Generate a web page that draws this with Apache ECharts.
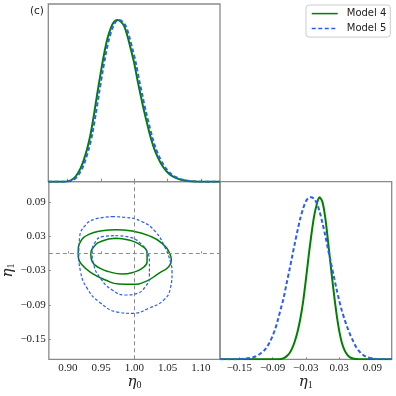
<!DOCTYPE html>
<html>
<head>
<meta charset="utf-8">
<script src="https://cdn.jsdelivr.net/npm/echarts@6/dist/echarts.min.js"></script>
<style>html,body{margin:0;padding:0;background:#fff;}#c{width:396px;height:396px;}</style>
</head>
<body>
<div id="c"></div>
<script>
// ---- data ----
const eta0Ticks = [0.90, 0.95, 1.00, 1.05, 1.10];
const eta1Ticks = [-0.15, -0.09, -0.03, 0.03, 0.09];
const eta0Range = [0.8714, 1.1286];
const eta1Range = [-0.185, 0.125];
const truthEta0 = 1.0;
const truthEta1 = 0.0;

// 1D posterior of eta0 (normalised to peak = 1)
const m4Eta0 = [[0.8714,0],[0.895,0],[0.900,0.002],[0.905,0.008],[0.910,0.022],[0.915,0.048],[0.920,0.085],[0.925,0.14],[0.930,0.21],[0.935,0.30],[0.940,0.42],[0.945,0.55],[0.950,0.675],[0.955,0.79],[0.960,0.885],[0.965,0.95],[0.970,0.99],[0.975,1.0],[0.980,0.99],[0.985,0.962],[0.990,0.9],[0.995,0.82],[1.000,0.735],[1.005,0.628],[1.010,0.53],[1.015,0.435],[1.020,0.35],[1.025,0.27],[1.030,0.205],[1.035,0.155],[1.040,0.114],[1.045,0.082],[1.050,0.058],[1.055,0.04],[1.060,0.028],[1.065,0.019],[1.070,0.012],[1.080,0.005],[1.090,0.0015],[1.100,0],[1.1286,0]];
const m5Eta0 = [[0.8714,0],[0.8975,0],[0.9025,0.002],[0.9075,0.008],[0.9125,0.022],[0.9175,0.048],[0.9225,0.085],[0.9275,0.14],[0.9325,0.21],[0.9375,0.30],[0.9425,0.42],[0.9475,0.55],[0.9525,0.675],[0.9575,0.79],[0.9625,0.885],[0.9675,0.95],[0.9725,0.99],[0.9775,1.0],[0.9825,0.99],[0.9875,0.962],[0.9925,0.9],[0.9975,0.82],[1.0025,0.735],[1.0075,0.628],[1.0125,0.53],[1.0175,0.435],[1.0225,0.35],[1.0275,0.27],[1.0325,0.205],[1.0375,0.155],[1.0425,0.114],[1.0475,0.082],[1.0525,0.058],[1.0575,0.04],[1.0625,0.028],[1.0675,0.019],[1.0725,0.012],[1.0825,0.005],[1.0925,0.0015],[1.1025,0],[1.1286,0]];

// 1D posterior of eta1
const m4Eta1 = [[-0.185,0],[-0.080,0],[-0.075,0.002],[-0.070,0.007],[-0.065,0.018],[-0.060,0.036],[-0.055,0.066],[-0.050,0.11],[-0.045,0.17],[-0.040,0.25],[-0.035,0.355],[-0.030,0.49],[-0.025,0.635],[-0.020,0.77],[-0.015,0.885],[-0.010,0.96],[-0.0055,1.0],[0.000,0.97],[0.005,0.875],[0.010,0.73],[0.015,0.575],[0.020,0.425],[0.025,0.29],[0.030,0.18],[0.035,0.102],[0.040,0.055],[0.045,0.027],[0.050,0.012],[0.055,0.005],[0.060,0.002],[0.070,0],[0.125,0]];
const m5Eta1 = [[-0.185,0],[-0.160,0],[-0.150,0.002],[-0.140,0.005],[-0.130,0.009],[-0.125,0.013],[-0.120,0.019],[-0.115,0.028],[-0.110,0.04],[-0.105,0.055],[-0.100,0.078],[-0.095,0.107],[-0.090,0.145],[-0.085,0.19],[-0.080,0.25],[-0.075,0.315],[-0.070,0.38],[-0.065,0.465],[-0.060,0.545],[-0.055,0.63],[-0.050,0.715],[-0.045,0.795],[-0.040,0.87],[-0.035,0.93],[-0.030,0.975],[-0.025,0.997],[-0.021,1.0],[-0.015,0.99],[-0.010,0.96],[-0.005,0.91],[0.000,0.84],[0.005,0.765],[0.010,0.68],[0.015,0.6],[0.020,0.52],[0.025,0.44],[0.030,0.365],[0.035,0.3],[0.040,0.245],[0.045,0.195],[0.050,0.152],[0.055,0.115],[0.060,0.08],[0.065,0.055],[0.070,0.036],[0.075,0.023],[0.080,0.014],[0.090,0.005],[0.100,0.002],[0.110,0],[0.125,0]];

// 2D contours (eta0, eta1)
const m4Outer = [[0.9715,0.0413],[0.9965,0.0389],[1.0215,0.0308],[1.0415,0.0174],[1.054,-0.0029],[1.0555,-0.0117],[1.0515,-0.0233],[1.0365,-0.0349],[1.0165,-0.0495],[0.9965,-0.0541],[0.9765,-0.0536],[0.9565,-0.0466],[0.9365,-0.0349],[0.9215,-0.0204],[0.9155,-0.0059],[0.9155,0.0029],[0.919,0.0203],[0.9315,0.0331],[0.9515,0.0395],[0.9715,0.0413]];
const m4Inner = [[0.9715,0.0262],[0.9915,0.0232],[1.009,0.0145],[1.019,0.0],[1.019,-0.0146],[1.0115,-0.0262],[0.9965,-0.0338],[0.9815,-0.0361],[0.9615,-0.032],[0.9465,-0.0251],[0.9365,-0.0146],[0.9345,-0.0029],[0.939,0.0116],[0.9515,0.0215],[0.9715,0.0262]];
const m5Outer = [[0.9665,0.064],[0.9865,0.0628],[1.0115,0.0552],[1.0315,0.0378],[1.0465,0.0087],[1.054,-0.0146],[1.0565,-0.032],[1.054,-0.0611],[1.044,-0.0815],[1.0215,-0.096],[0.9965,-0.1048],[0.9765,-0.103],[0.9465,-0.0844],[0.929,-0.0611],[0.919,-0.032],[0.9165,-0.0029],[0.9175,0.0262],[0.9265,0.0494],[0.9415,0.0599],[0.9665,0.064]];
const m5Inner = [[0.9715,0.0308],[0.994,0.0279],[1.009,0.0174],[1.019,0.0029],[1.0225,-0.0146],[1.0225,-0.0408],[1.0165,-0.0582],[1.004,-0.0699],[0.9865,-0.0728],[0.9665,-0.064],[0.949,-0.0437],[0.939,-0.0204],[0.9365,0.0029],[0.9415,0.0203],[0.9515,0.0291],[0.9715,0.0308]];

const seriesNames = ['Model 4', 'Model 5'];
const panelLabel = '(c)';

// ---- styles ----
const GREEN = '#008000';
const BLUE = '#2a5bff';
const SPINE = '#8a8a8a';
const fmt = v => (v < 0 ? '\u2212' : '') + Math.abs(v).toFixed(2);
const labelStyle = {fontFamily: 'Liberation Serif', fontSize: 11, color: '#222'};
const nameRich = {
  e: {fontFamily: 'DejaVu Serif', fontStyle: 'italic', fontSize: 15, color: '#222'},
  s: {fontFamily: 'Liberation Serif', fontSize: 10, color: '#222', verticalAlign: 'bottom', padding: [6, 0, 0, 0]}
};

const chart = echarts.init(document.getElementById('c'), null, {renderer: 'canvas'});

function line(name, data, xi, yi, color, dashed, width, smooth) {
  return {
    name: name, type: 'line', xAxisIndex: xi, yAxisIndex: yi, data: data,
    showSymbol: false, symbol: 'none', smooth: smooth,
    lineStyle: {color: color, width: width, type: dashed ? dashed : 'solid'},
    itemStyle: {color: color},
    animation: false, silent: true, z: dashed ? 3 : 2
  };
}

const contourM4Outer = line(seriesNames[0], m4Outer, 1, 1, GREEN, null, 1.5, 0.5);
contourM4Outer.markLine = {
  silent: true, symbol: ['none', 'none'], label: {show: false}, animation: false,
  lineStyle: {color: '#8a8a8a', type: [4, 3], width: 1},
  data: [{xAxis: truthEta0}, {yAxis: truthEta1}]
};

const option = {
  animation: false,
  backgroundColor: '#fff',
  grid: [
    {left: 48.3, top: 4, width: 171.7, height: 177.7, show: true, borderColor: SPINE, borderWidth: 1.3},
    {left: 48.3, top: 181.7, width: 171.7, height: 177.6, show: true, borderColor: SPINE, borderWidth: 1.3},
    {left: 220, top: 181.7, width: 171.7, height: 177.6, show: true, borderColor: SPINE, borderWidth: 1.3}
  ],
  xAxis: [
    {gridIndex: 0, type: 'value', min: eta0Range[0], max: eta0Range[1],
     axisLine: {show: false}, splitLine: {show: false},
     axisTick: {show: true, inside: true, length: 3, customValues: eta0Ticks, lineStyle: {color: SPINE}},
     axisLabel: {show: false}},
    {gridIndex: 1, type: 'value', min: eta0Range[0], max: eta0Range[1],
     axisLine: {show: false}, splitLine: {show: false},
     axisTick: {show: true, inside: true, length: 2, customValues: eta0Ticks, lineStyle: {color: SPINE}},
     axisLabel: Object.assign({show: true, margin: 3, customValues: eta0Ticks, formatter: fmt}, labelStyle),
     name: '{e|η}{s|0}', nameLocation: 'middle', nameGap: 15, nameTextStyle: {rich: nameRich}},
    {gridIndex: 2, type: 'value', min: eta1Range[0], max: eta1Range[1],
     axisLine: {show: false}, splitLine: {show: false},
     axisTick: {show: true, inside: true, length: 2, customValues: eta1Ticks, lineStyle: {color: SPINE}},
     axisLabel: Object.assign({show: true, margin: 3, customValues: eta1Ticks, formatter: fmt}, labelStyle),
     name: '{e|η}{s|1}', nameLocation: 'middle', nameGap: 15, nameTextStyle: {rich: nameRich}}
  ],
  yAxis: [
    {gridIndex: 0, type: 'value', min: 0, max: 1.099, show: false},
    {gridIndex: 1, type: 'value', min: eta1Range[0], max: eta1Range[1],
     axisLine: {show: false}, splitLine: {show: false},
     axisTick: {show: true, inside: true, length: 2, customValues: eta1Ticks, lineStyle: {color: SPINE}},
     axisLabel: Object.assign({show: true, margin: 3, customValues: eta1Ticks, formatter: fmt}, labelStyle),
     name: '{e|η}{s|1}', nameLocation: 'middle', nameGap: 30, nameTextStyle: {rich: nameRich}},
    {gridIndex: 2, type: 'value', min: 0, max: 1.096, show: false}
  ],
  legend: {
    data: seriesNames, left: 306, top: 5, orient: 'vertical',
    itemWidth: 26, itemHeight: 14, itemGap: 3.7, padding: [3, 4, 3, 5],
    borderColor: '#cccccc', borderWidth: 1, borderRadius: 3, backgroundColor: '#fff',
    itemStyle: {opacity: 0, borderWidth: 0},
    lineStyle: {width: 1.5},
    textStyle: {fontFamily: 'DejaVu Sans', fontSize: 10, color: '#222', padding: [0, 0, 0, 4]},
    selectedMode: false
  },
  graphic: [
    {type: 'text', left: 30, top: 6, style: {text: panelLabel, font: '10.5px "DejaVu Sans"', fill: '#222'}}
  ],
  series: [
    line(seriesNames[0], m4Eta0, 0, 0, GREEN, null, 2, 0.3),
    line(seriesNames[1], m5Eta0, 0, 0, BLUE, [4, 2.5], 2, 0.3),
    contourM4Outer,
    line(seriesNames[0], m4Inner, 1, 1, GREEN, null, 1.5, 0.5),
    line(seriesNames[1], m5Outer, 1, 1, BLUE, [3, 2], 1.2, 0.5),
    line(seriesNames[1], m5Inner, 1, 1, BLUE, [3, 2], 1.2, 0.5),
    line(seriesNames[0], m4Eta1, 2, 2, GREEN, null, 2, 0.3),
    line(seriesNames[1], m5Eta1, 2, 2, BLUE, [4, 2.5], 2, 0.3)
  ]
};
chart.setOption(option);
</script>
</body>
</html>
